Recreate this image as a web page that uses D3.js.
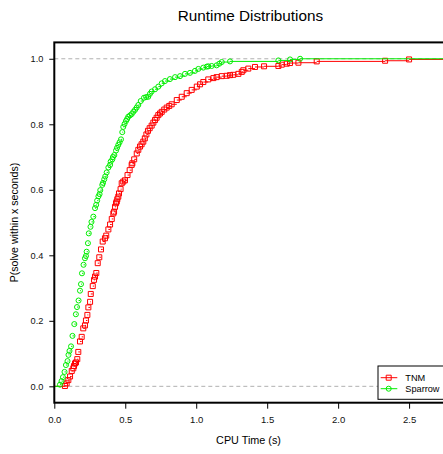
<!DOCTYPE html>
<html>
<head>
<meta charset="utf-8">
<script src="https://cdn.jsdelivr.net/npm/d3@7"></script>
<style>
  body { margin: 0; background: #fff; }
  svg { display: block; font-family: "Liberation Sans", Arial, sans-serif; }
</style>
</head>
<body>
<svg id="ecdf_svg" width="443" height="454"></svg>
<script>
// Data: ECDF knots (runtime in s, fraction solved)
var tnmTime = [0.075, 0.087, 0.099, 0.111, 0.123, 0.134, 0.139, 0.146, 0.153, 0.162, 0.169, 0.181, 0.193, 0.204, 0.216, 0.223, 0.233, 0.240, 0.252, 0.257,
    0.271, 0.280, 0.287, 0.296, 0.306, 0.317, 0.329, 0.341, 0.357, 0.366, 0.381, 0.393, 0.405, 0.416, 0.421, 0.428, 0.435, 0.440, 0.444, 0.451,
    0.456, 0.467, 0.475, 0.486, 0.498, 0.516, 0.531, 0.545, 0.550, 0.563, 0.581, 0.592, 0.604, 0.615, 0.627, 0.638, 0.649, 0.660, 0.672, 0.686,
    0.698, 0.710, 0.721, 0.733, 0.745, 0.757, 0.775, 0.792, 0.810, 0.827, 0.863, 0.898, 0.933, 0.968, 1.004, 1.027, 1.050, 1.085, 1.121, 1.144,
    1.180, 1.215, 1.238, 1.261, 1.297, 1.321, 1.332, 1.367, 1.414, 1.478, 1.579, 1.603, 1.638, 1.661, 1.720, 1.849, 2.331, 2.500];
var tnmProb = [0.001, 0.009, 0.019, 0.030, 0.047, 0.055, 0.062, 0.070, 0.073, 0.083, 0.105, 0.137, 0.151, 0.177, 0.186, 0.201, 0.218, 0.241, 0.258, 0.282,
    0.306, 0.325, 0.335, 0.346, 0.376, 0.394, 0.418, 0.442, 0.452, 0.460, 0.479, 0.494, 0.511, 0.528, 0.533, 0.548, 0.559, 0.564, 0.571, 0.579,
    0.589, 0.602, 0.620, 0.625, 0.629, 0.645, 0.660, 0.676, 0.681, 0.693, 0.711, 0.722, 0.732, 0.739, 0.747, 0.757, 0.769, 0.780, 0.788, 0.796,
    0.805, 0.813, 0.820, 0.828, 0.833, 0.838, 0.845, 0.851, 0.856, 0.861, 0.874, 0.884, 0.895, 0.905, 0.915, 0.922, 0.929, 0.937, 0.941, 0.944,
    0.947, 0.948, 0.950, 0.951, 0.954, 0.960, 0.965, 0.970, 0.975, 0.977, 0.978, 0.982, 0.985, 0.987, 0.988, 0.992, 0.994, 0.998];

var sparrowTime = [0.040, 0.051, 0.061, 0.072, 0.082, 0.093, 0.100, 0.107, 0.118, 0.128, 0.141, 0.152, 0.160, 0.171, 0.181, 0.188, 0.195, 0.206, 0.216, 0.223,
    0.228, 0.237, 0.243, 0.255, 0.262, 0.275, 0.287, 0.295, 0.302, 0.311, 0.319, 0.324, 0.338, 0.343, 0.352, 0.359, 0.369, 0.381, 0.393, 0.397,
    0.409, 0.413, 0.423, 0.435, 0.442, 0.451, 0.460, 0.470, 0.479, 0.486, 0.495, 0.505, 0.513, 0.521, 0.533, 0.545, 0.557, 0.569, 0.580, 0.592,
    0.609, 0.632, 0.647, 0.662, 0.674, 0.686, 0.710, 0.733, 0.757, 0.780, 0.815, 0.851, 0.886, 0.921, 0.956, 0.991, 1.015, 1.050, 1.074, 1.085,
    1.109, 1.144, 1.163, 1.180, 1.238, 1.579, 1.661, 1.732];
var sparrowProb = [0.005, 0.016, 0.028, 0.044, 0.065, 0.077, 0.096, 0.108, 0.122, 0.154, 0.190, 0.220, 0.242, 0.262, 0.292, 0.312, 0.345, 0.371, 0.391, 0.398,
    0.411, 0.437, 0.467, 0.487, 0.502, 0.518, 0.544, 0.554, 0.567, 0.580, 0.587, 0.599, 0.615, 0.621, 0.632, 0.641, 0.653, 0.668, 0.676, 0.686,
    0.693, 0.700, 0.706, 0.720, 0.728, 0.737, 0.745, 0.754, 0.776, 0.792, 0.801, 0.810, 0.816, 0.823, 0.827, 0.831, 0.838, 0.844, 0.851, 0.859,
    0.871, 0.881, 0.883, 0.884, 0.893, 0.900, 0.907, 0.915, 0.925, 0.932, 0.938, 0.944, 0.947, 0.954, 0.957, 0.963, 0.969, 0.973, 0.976, 0.977,
    0.978, 0.980, 0.985, 0.990, 0.992, 0.995, 0.998, 1.000];

var seriesNames = ["TNM", "Sparrow"];
var seriesColors = ["#ff0000", "#00ee00"];

var xTicks = [0, 0.5, 1.0, 1.5, 2.0, 2.5];
var yTicks = [0, 0.2, 0.4, 0.6, 0.8, 1.0];
var refLines = [0, 1];

document.addEventListener("DOMContentLoaded", function() {
    const svg = d3.select("#ecdf_svg");

    // plot region (R style, right side runs off the picture)
    const left = 54.3, right = 446.7, top = 42.4, bottom = 402.7;

    const xScale = d3.scaleLinear().domain([0, 2.765]).range([left, right]);
    const yScale = d3.scaleLinear().domain([-0.05, 1.05]).range([bottom, top]);

    svg.append("rect").attr("width", 443).attr("height", 454).attr("fill", "#fff");

    svg.append("clipPath").attr("id", "plot_clip")
        .append("rect")
        .attr("x", left).attr("y", top)
        .attr("width", right - left).attr("height", bottom - top);

    const g = svg.append("g").attr("clip-path", "url(#plot_clip)");

    // dashed reference lines at 0 and 1
    g.selectAll(".ref")
        .data(refLines)
        .enter()
        .append("line")
        .attr("x1", left).attr("x2", right)
        .attr("y1", d => yScale(d)).attr("y2", d => yScale(d))
        .attr("stroke", "#b0b0b0")
        .attr("stroke-dasharray", "4,3")
        .attr("stroke-width", 1);

    const series = [
        { name: seriesNames[0], color: seriesColors[0], t: tnmTime, p: tnmProb, shape: "square" },
        { name: seriesNames[1], color: seriesColors[1], t: sparrowTime, p: sparrowProb, shape: "circle" }
    ];

    const squarePath = "M-2.5,-2.5h5v5h-5z";
    const circlePath = d3.symbol().type(d3.symbolCircle).size(20)();

    series.forEach(s => {
        const pts = s.t.map((t, i) => ({ x: t, y: s.p[i] }));

        // horizontal steps of the ecdf (no verticals)
        const steps = [];
        steps.push({ x0: xScale.domain()[0] - 1, x1: pts[0].x, y: 0 });
        for (let i = 0; i < pts.length; i++) {
            const next = i + 1 < pts.length ? pts[i + 1].x : xScale.domain()[1] + 1;
            steps.push({ x0: pts[i].x, x1: next, y: pts[i].y });
        }
        g.append("g").selectAll("line")
            .data(steps)
            .enter()
            .append("line")
            .attr("x1", d => xScale(d.x0)).attr("x2", d => xScale(d.x1))
            .attr("y1", d => yScale(d.y)).attr("y2", d => yScale(d.y))
            .attr("stroke", s.color)
            .attr("stroke-width", 1);

        // knots
        g.append("g").selectAll("path")
            .data(pts)
            .enter()
            .append("path")
            .attr("transform", d => `translate(${xScale(d.x)},${yScale(d.y)})`)
            .attr("d", s.shape == "square" ? squarePath : circlePath)
            .attr("fill", "none")
            .attr("stroke", s.color)
            .attr("stroke-width", 1);
    });

    // box
    svg.append("rect")
        .attr("x", left).attr("y", top)
        .attr("width", right - left).attr("height", bottom - top)
        .attr("fill", "none")
        .attr("stroke", "#000")
        .attr("stroke-width", 2);

    // x axis
    const xAxis = svg.append("g")
        .attr("transform", `translate(0, ${bottom})`)
        .call(d3.axisBottom(xScale).tickValues(xTicks).tickFormat(d3.format(".1f")).tickSize(6).tickPadding(8));
    xAxis.select(".domain").remove();
    xAxis.selectAll("text").attr("font-size", "9.5px").attr("font-family", "Liberation Sans, Arial, sans-serif").attr("fill", "#111");

    // y axis
    const yAxis = svg.append("g")
        .attr("transform", `translate(${left}, 0)`)
        .call(d3.axisLeft(yScale).tickValues(yTicks).tickFormat(d3.format(".1f")).tickSize(5).tickPadding(6));
    yAxis.select(".domain").remove();
    yAxis.selectAll("text").attr("font-size", "9.2px").attr("font-family", "Liberation Sans, Arial, sans-serif").attr("fill", "#111");

    // titles
    svg.append("text")
        .attr("x", (left + right) / 2).attr("y", 20.7)
        .attr("text-anchor", "middle")
        .attr("font-size", "15.3px")
        .text("Runtime Distributions");

    svg.append("text")
        .attr("x", (left + right) / 2 - 2).attr("y", 443.5)
        .attr("text-anchor", "middle")
        .attr("font-size", "10.8px")
        .text("CPU Time (s)");

    svg.append("text")
        .attr("transform", `translate(17.5, ${(top + bottom) / 2}) rotate(-90)`)
        .attr("text-anchor", "middle")
        .attr("font-size", "10.6px")
        .text("P(solve within x seconds)");

    // legend
    const lg = svg.append("g");
    lg.append("rect")
        .attr("x", 378).attr("y", 366)
        .attr("width", 68).attr("height", 33.3)
        .attr("fill", "#fff")
        .attr("stroke", "#000")
        .attr("stroke-width", 1);
    series.forEach((s, i) => {
        const yy = 377.7 + i * 11;
        lg.append("line")
            .attr("x1", 380.7).attr("x2", 397.3)
            .attr("y1", yy).attr("y2", yy)
            .attr("stroke", s.color);
        lg.append("path")
            .attr("transform", `translate(388.7, ${yy})`)
            .attr("d", s.shape == "square" ? squarePath : circlePath)
            .attr("fill", "none")
            .attr("stroke", s.color);
        lg.append("text")
            .attr("x", 405.3).attr("y", yy + 3.2)
            .attr("font-size", "9.2px")
            .text(s.name);
    });
});
</script>
</body>
</html>
